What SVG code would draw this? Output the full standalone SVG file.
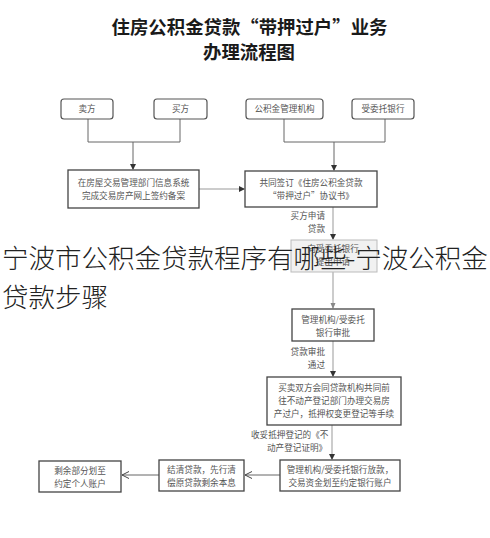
<svg xmlns="http://www.w3.org/2000/svg" width="490" height="538" viewBox="0 0 490 538">
<style>
.title{font-family:"Noto Sans CJK SC","Noto Sans CJK JP",sans-serif;font-weight:bold;font-size:18.4px;fill:#1a1a1a;text-anchor:middle}
.t{font-family:"Noto Sans CJK SC","Noto Sans CJK JP",sans-serif;font-size:8.6px;fill:#555;text-anchor:middle}
.lab{font-family:"Noto Sans CJK SC","Noto Sans CJK JP",sans-serif;font-size:8.6px;fill:#555}
.rbox{fill:#fff;stroke:#555;stroke-width:1.2}
.box{fill:#fff;stroke:#444;stroke-width:1.3}
.faint{fill:#f1f1f1;stroke:#bbb;stroke-width:1}
.ln{fill:none;stroke:#666;stroke-width:1}
.lg{fill:none;stroke:#999;stroke-width:1}
.ov{font-family:"Noto Sans CJK SC","Noto Sans CJK JP",sans-serif;font-weight:300;font-size:26.5px;fill:#222}
</style>
<defs>
<marker id="fa" markerWidth="6" markerHeight="6" refX="5" refY="3" orient="auto" markerUnits="userSpaceOnUse">
<path d="M0,0 L6,3 L0,6 Z" fill="#333"/>
</marker>
<marker id="ga" markerWidth="6" markerHeight="6" refX="5" refY="3" orient="auto" markerUnits="userSpaceOnUse">
<path d="M0,0.5 L6,3 L0,5.5 Z" fill="#888"/>
</marker>
<marker id="oa" markerWidth="8" markerHeight="8" refX="7" refY="4" orient="auto" markerUnits="userSpaceOnUse">
<path d="M0,0.5 L7,4 L0,7.5" fill="none" stroke="#444" stroke-width="1"/>
</marker>
</defs>
<rect width="490" height="538" fill="#fff"/>
<g id="title">
<text class="title" x="249.5" y="34">住房公积金贷款“带押过户”业务</text>
<text class="title" x="249" y="59">办理流程图</text>
</g>
<g id="connectors">
<path class="ln" d="M88,119 V142 H180 V119"/>
<path class="ln" d="M133,142 V169" marker-end="url(#fa)"/>
<path class="ln" d="M284,119 V142 H385 V119"/>
<path class="ln" d="M334,142 V170" marker-end="url(#fa)"/>
<path class="lg" d="M199,189 H244" marker-end="url(#fa)"/>
<path class="lg" d="M333,207 V239" marker-end="url(#fa)"/>
<path class="lg" d="M333,272 V308" marker-end="url(#ga)"/>
<path class="lg" d="M333,341 V376" marker-end="url(#fa)"/>
<path class="lg" d="M332,425 V459" marker-end="url(#fa)"/>
<path class="ln" d="M280,475 H245" marker-end="url(#oa)"/>
<path class="ln" d="M159,475 H122" marker-end="url(#oa)"/>
<text class="lab" x="325" y="219" text-anchor="end">买方申请</text>
<text class="lab" x="325" y="232" text-anchor="end">贷款</text>
<text class="lab" x="325" y="355" text-anchor="end">贷款审批</text>
<text class="lab" x="325" y="368" text-anchor="end">通过</text>
<text class="lab" x="251" y="438">收妥抵押登记的《不</text>
<text class="lab" x="267" y="451">动产登记证明》</text>
</g>
<g id="seller">
<rect class="rbox" x="61" y="99" width="52" height="20" rx="3"/>
<text class="t" x="87" y="112" font-size="9">卖方</text>
</g>
<g id="buyer">
<rect class="rbox" x="154" y="99" width="53" height="20" rx="3"/>
<text class="t" x="180.5" y="112" font-size="9">买方</text>
</g>
<g id="fund">
<rect class="rbox" x="246" y="99" width="77" height="20" rx="3"/>
<text class="t" x="284.5" y="112" font-size="9">公积金管理机构</text>
</g>
<g id="bank">
<rect class="rbox" x="352" y="99" width="62" height="20" rx="3"/>
<text class="t" x="383" y="112" font-size="9">受委托银行</text>
</g>
<g id="filing">
<rect class="box" x="68" y="170" width="131" height="38"/>
<text class="t" x="133.5" y="186">在房屋交易管理部门信息系统</text>
<text class="t" x="133.5" y="199">完成交易房产网上签约备案</text>
</g>
<g id="agreement">
<rect class="box" x="245" y="171" width="132" height="36"/>
<text class="t" x="311" y="186">共同签订《住房公积金贷款</text>
<text class="t" x="311" y="199">“带押过户”协议书》</text>
</g>
<g id="apply">
<rect class="faint" x="291" y="240" width="86" height="32"/>
<text class="t" x="333" y="252" fill="#b5b5b5">向受委托银行</text>
<text class="t" x="333" y="265" fill="#b5b5b5">提出申请</text>
</g>
<g id="review">
<rect class="box" x="292" y="309" width="82" height="32"/>
<text class="t" x="333" y="323">管理机构/受委托</text>
<text class="t" x="333" y="336">银行审批</text>
</g>
<g id="transfer">
<rect class="box" x="267" y="377" width="134" height="48"/>
<text class="t" x="334" y="391">买卖双方会同贷款机构共同前</text>
<text class="t" x="334" y="404">往不动产登记部门办理交易房</text>
<text class="t" x="334" y="417">产过户，抵押权变更登记等手续</text>
</g>
<g id="release">
<rect class="box" x="280" y="460" width="120" height="31"/>
<text class="t" x="340" y="473">管理机构/受委托银行放款，</text>
<text class="t" x="340" y="486">交易资金划至约定银行账户</text>
</g>
<g id="settle">
<rect class="box" x="159" y="460" width="85" height="31"/>
<text class="t" x="201.5" y="473">结清贷款，先行清</text>
<text class="t" x="201.5" y="486">偿原贷款剩余本息</text>
</g>
<g id="remain">
<rect class="box" x="39" y="461" width="82" height="31"/>
<text class="t" x="80" y="474">剩余部分划至</text>
<text class="t" x="80" y="487">约定个人账户</text>
</g>
<g id="overlay">
<text class="ov" x="2" y="268">宁波市公积金贷款程序有哪些-宁波公积金</text>
<text class="ov" x="2" y="307">贷款步骤</text>
</g>
</svg>
